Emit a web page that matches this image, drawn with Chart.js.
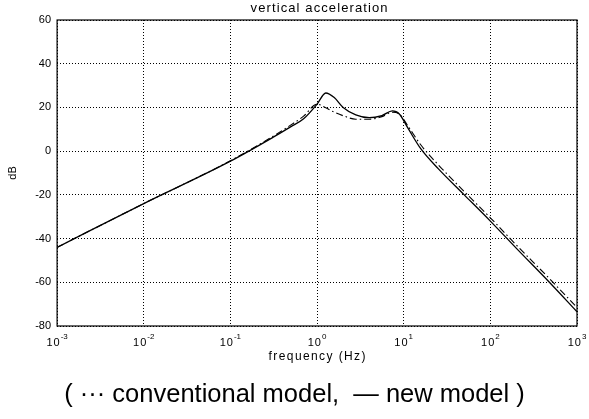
<!DOCTYPE html>
<html>
<head>
<meta charset="utf-8">
<script src="https://cdn.jsdelivr.net/npm/chart.js@4.4.1/dist/chart.umd.min.js"></script>
<style>
  html, body { margin: 0; padding: 0; background: #fff; }
  #wrap { position: relative; width: 589px; height: 419px; }
  #caption {
    position: absolute; left: 0; top: 379px; width: 589px;
    text-align: center; color: #000; line-height: 30px;
    font: 25.5px "Liberation Sans", Arial, sans-serif;
  }
</style>
</head>
<body>
<div id="wrap">
  <canvas id="bode" width="589" height="419"></canvas>
  <div id="caption">( &middot;&middot;&middot; conventional model, &nbsp;&mdash; new model )</div>
</div>
<script>
// frequency response, vertical acceleration
const freqHz      = [0.001, 0.01, 0.1, 0.316, 0.5, 0.7, 1.0, 1.26, 1.58, 2.0, 2.8, 4.0, 5.6, 7.4, 8.9, 11.2, 15.8, 25, 50, 100, 200, 480, 1000];
const newModelDb  = [-44, -24, -4.6, 6.5, 11.2, 14.8, 21.5, 26.6, 24.5, 20.0, 16.6, 15.3, 16.3, 18.4, 17.0, 10.5, 1.0, -8.0, -20, -32, -44.5, -60, -73.5];
const convModelDb = [-44, -24, -4.4, 7.0, 12.0, 16.0, 21.5, 19.8, 17.8, 16.2, 14.6, 14.6, 15.8, 17.8, 17.0, 11.5, 2.8, -6.2, -18.5, -30.5, -43, -58.3, -71.5];
const decadeTicks = [1e-3, 1e-2, 1e-1, 1e0, 1e1, 1e2, 1e3];
const decadeExp   = ['-3', '-2', '-1', '0', '1', '2', '3'];
const dbRange     = [-80, 60];
const dbStep      = 20;

const FONT = '"Liberation Sans", Arial, sans-serif';

const toPoints = (xs, ys) => xs.map((x, i) => ({ x: x, y: ys[i] }));

function spacedText(ctx, text, x, y, font, spacing) {
  ctx.font = font;
  ctx.letterSpacing = spacing + 'px';
  ctx.textAlign = 'center';
  ctx.textBaseline = 'middle';
  ctx.fillText(text, x + spacing / 2, y);
  ctx.letterSpacing = '0px';
}

// box around the plot, title, x label and 10^n tick labels
const framePlugin = {
  id: 'frame',
  afterDraw(chart) {
    const { ctx, chartArea: a, scales } = chart;
    const cx = (a.left + a.right) / 2;
    ctx.save();
    ctx.strokeStyle = '#000';
    ctx.lineWidth = 1.2;
    ctx.setLineDash([]);
    ctx.strokeRect(a.left, a.top, a.right - a.left, a.bottom - a.top);

    ctx.fillStyle = '#000';
    spacedText(ctx, 'vertical acceleration', cx + 2, a.top - 12, '13px ' + FONT, 1.1);
    spacedText(ctx, 'frequency (Hz)', cx, a.bottom + 31, '12px ' + FONT, 1.4);

    ctx.textAlign = 'left';
    ctx.textBaseline = 'alphabetic';
    decadeTicks.forEach((v, i) => {
      const x = scales.x.getPixelForValue(v);
      ctx.letterSpacing = '1px';
      ctx.font = '11px ' + FONT;
      const wb = ctx.measureText('10').width;
      ctx.letterSpacing = '0px';
      ctx.font = '8px ' + FONT;
      const we = ctx.measureText(decadeExp[i]).width;
      const x0 = x - (wb + we) / 2;
      ctx.letterSpacing = '1px';
      ctx.font = '11px ' + FONT;
      ctx.fillText('10', x0, a.bottom + 20);
      ctx.letterSpacing = '0px';
      ctx.font = '8px ' + FONT;
      ctx.fillText(decadeExp[i], x0 + wb, a.bottom + 13);
    });
    ctx.restore();
  }
};

new Chart(document.getElementById('bode'), {
  type: 'line',
  data: {
    datasets: [
      {
        label: 'new model',
        data: toPoints(freqHz, newModelDb),
        borderColor: '#000',
        borderWidth: 1.3,
        pointRadius: 0,
        cubicInterpolationMode: 'monotone',
        fill: false
      },
      {
        label: 'conventional model',
        data: toPoints(freqHz, convModelDb),
        borderColor: '#000',
        borderWidth: 1.1,
        borderDash: [7, 3, 1.5, 3],
        pointRadius: 0,
        cubicInterpolationMode: 'monotone',
        fill: false
      }
    ]
  },
  options: {
    responsive: false,
    animation: false,
    devicePixelRatio: 1,
    layout: { padding: { left: 6, right: 12, top: 20, bottom: 93 } },
    plugins: {
      legend: { display: false },
      tooltip: { enabled: false },
      title: { display: false }
    },
    scales: {
      x: {
        type: 'logarithmic',
        min: 1e-3,
        max: 1e3,
        afterBuildTicks: s => { s.ticks = decadeTicks.map(v => ({ value: v })); },
        ticks: { display: false },
        grid: { color: '#000', lineWidth: 1, drawTicks: false },
        border: { display: false, dash: [1, 2] }
      },
      y: {
        min: dbRange[0],
        max: dbRange[1],
        ticks: {
          stepSize: dbStep,
          color: '#000',
          padding: 6,
          font: { family: FONT, size: 11 }
        },
        grid: { color: '#000', lineWidth: 1, drawTicks: false },
        border: { display: false, dash: [1, 2] },
        title: {
          display: true,
          text: 'dB',
          color: '#000',
          font: { family: FONT, size: 11 },
          padding: { top: 0, bottom: 10 }
        }
      }
    }
  },
  plugins: [framePlugin]
});
</script>
</body>
</html>
